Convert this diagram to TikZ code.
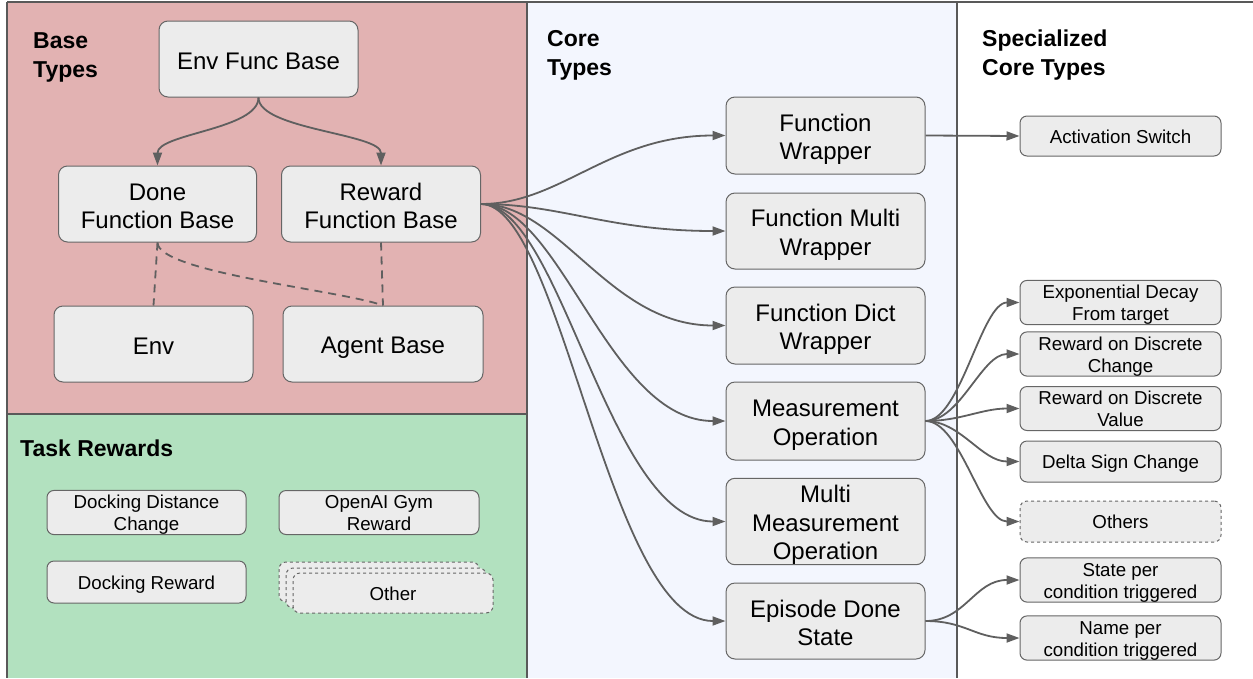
\documentclass[tikz,border=0pt]{standalone}
\usepackage{fontspec}
\setmainfont{Liberation Sans}
\usetikzlibrary{arrows.meta}
\definecolor{panelred}{RGB}{226,178,178}
\definecolor{panelgreen}{RGB}{178,225,191}
\definecolor{panelblue}{RGB}{243,246,254}
\definecolor{boxfill}{RGB}{236,236,236}
\definecolor{boxline}{RGB}{102,102,102}
\definecolor{arrowc}{RGB}{95,95,95}
\definecolor{divline}{RGB}{89,89,89}
\newcommand\bgstr{\rule[-4pt]{0pt}{28.5pt}}
\newcommand\smstr{\rule[-3.7pt]{0pt}{22pt}}
\begin{document}
\begin{tikzpicture}[x=1pt,y=-1pt,
  basebox/.style={draw=boxline, fill=boxfill, rounded corners=9pt, line width=1pt, align=center, inner sep=0pt, font=\fontsize{24}{28.5}\selectfont, execute at end node=\bgstr},
  smallbox/.style={draw=boxline, fill=boxfill, rounded corners=7pt, line width=1pt, align=center, inner sep=0pt, font=\fontsize{18.7}{22}\selectfont, execute at end node=\smstr},
  title/.style={anchor=north west, inner sep=0pt, align=left, font=\bfseries\fontsize{23}{29}\selectfont},
  conn/.style={draw=arrowc, line width=1.8pt, -{Triangle[length=13pt,width=9pt]}},
  dashconn/.style={draw=arrowc, line width=1.8pt, dash pattern=on 8pt off 6pt},
  divider/.style={draw=divline, line width=1.2pt}]
\useasboundingbox (0,0) rectangle (1253,678);
% panels
\fill[panelred] (7,2) rectangle (527,414);
\fill[panelgreen] (7,414) rectangle (527,678);
\fill[panelblue] (527,2) rectangle (957,678);
\draw[divider] (7,2) -- (1253,2);
\draw[divider] (7,2) -- (7,678);
\draw[divider] (7,414) -- (527,414);
\draw[divider, line width=2pt] (527,2) -- (527,678);
\draw[divider] (957,2) -- (957,678);
% titles
\node[title] (tbase) at (33,32) {Base\\Types};
\node[title] (ttask) at (20,440) {Task Rewards};
\node[title] (tcore) at (547,30) {Core\\Types};
\node[title] (tspec) at (982,30) {Specialized\\Core Types};
% base types
\node[basebox, minimum width=199pt, minimum height=76pt] (efb) at (258.5,59) {\bgstr Env Func Base};
\node[basebox, minimum width=198pt, minimum height=76pt] (dfb) at (157.5,204) {\bgstr Done\\Function Base};
\node[basebox, minimum width=199pt, minimum height=76pt] (rfb) at (381,204) {\bgstr Reward\\Function Base};
\node[basebox, minimum width=199pt, minimum height=76pt] (env) at (153.5,344) {\bgstr Env};
\node[basebox, minimum width=200pt, minimum height=76pt] (ab) at (383,344) {\bgstr Agent Base};
\draw[conn] (efb.south) .. controls +(0,32) and +(0,-32) .. (dfb.north);
\draw[conn] (efb.south) .. controls +(0,32) and +(0,-32) .. (rfb.north);
\draw[dashconn] (dfb.south) -- (env.north);
\draw[dashconn] (dfb.south) .. controls +(0,30) and +(-40,-15) .. (ab.north);
\draw[dashconn] (rfb.south) -- (ab.north);
% task rewards
\node[smallbox, minimum width=199pt, minimum height=41pt] (ddc) at (146.5,512.5) {\smstr Docking Distance\\Change};
\node[smallbox, minimum width=200pt, minimum height=41pt] (ogr) at (379,512.5) {\smstr OpenAI Gym\\Reward};
\node[smallbox, minimum width=199pt, minimum height=42pt] (dr) at (146.5,582) {\smstr Docking Reward};
\draw[draw=boxline, fill=boxfill, rounded corners=7pt, line width=1pt, dashed] (279,562) rectangle (479,602);
\draw[draw=boxline, fill=boxfill, rounded corners=7pt, line width=1pt, dashed] (286,568) rectangle (486,608);
\node[smallbox, dashed, minimum width=200pt, minimum height=40pt] (oth) at (393,593) {\smstr Other};
% core types
\node[basebox, minimum width=199pt, minimum height=77pt] (fw) at (825.5,135.5) {\bgstr Function\\Wrapper};
\node[basebox, minimum width=199pt, minimum height=76pt] (fmw) at (825.5,231) {\bgstr Function Multi\\Wrapper};
\node[basebox, minimum width=199pt, minimum height=77pt] (fdw) at (825.5,325.5) {\bgstr Function Dict\\Wrapper};
\node[basebox, minimum width=199pt, minimum height=78pt] (mo) at (825.5,421) {\bgstr Measurement\\Operation};
\node[basebox, minimum width=199pt, minimum height=85pt] (mmo) at (825.5,521.5) {\bgstr Multi\\Measurement\\Operation};
\node[basebox, minimum width=199pt, minimum height=76pt] (eds) at (825.5,621) {\bgstr Episode Done\\State};
\foreach \t in {fw,fmw,fdw,mo,mmo,eds}
  \draw[conn] (rfb.east) .. controls +(80,0) and +(-117,0) .. (\t.west);
% specialized
\node[smallbox, minimum width=201pt, minimum height=40pt] (as) at (1120.5,136) {\smstr Activation Switch};
\node[smallbox, minimum width=201pt, minimum height=41pt] (edt) at (1120.5,302.5) {\smstr Exponential Decay\\From target};
\node[smallbox, minimum width=201pt, minimum height=42pt] (rdc) at (1120.5,354) {\smstr Reward on Discrete\\Change};
\node[smallbox, minimum width=201pt, minimum height=41pt] (rdv) at (1120.5,408.5) {\smstr Reward on Discrete\\Value};
\node[smallbox, minimum width=201pt, minimum height=41pt] (dsc) at (1120.5,461.5) {\smstr Delta Sign Change};
\node[smallbox, dashed, minimum width=201pt, minimum height=41pt] (others) at (1120.5,521.5) {\smstr Others};
\node[smallbox, minimum width=201pt, minimum height=42pt] (spc) at (1120.5,580) {\smstr State per\\condition triggered};
\node[smallbox, minimum width=201pt, minimum height=42pt] (npc) at (1120.5,638) {\smstr Name per\\condition triggered};
\draw[conn] (fw.east) -- (as.west);
\foreach \t in {edt,rdc,rdv,dsc,others}
  \draw[conn] (mo.east) .. controls +(35,0) and +(-38,0) .. (\t.west);
\foreach \t in {spc,npc}
  \draw[conn] (eds.east) .. controls +(40,0) and +(-45,0) .. (\t.west);
\end{tikzpicture}
\end{document}
